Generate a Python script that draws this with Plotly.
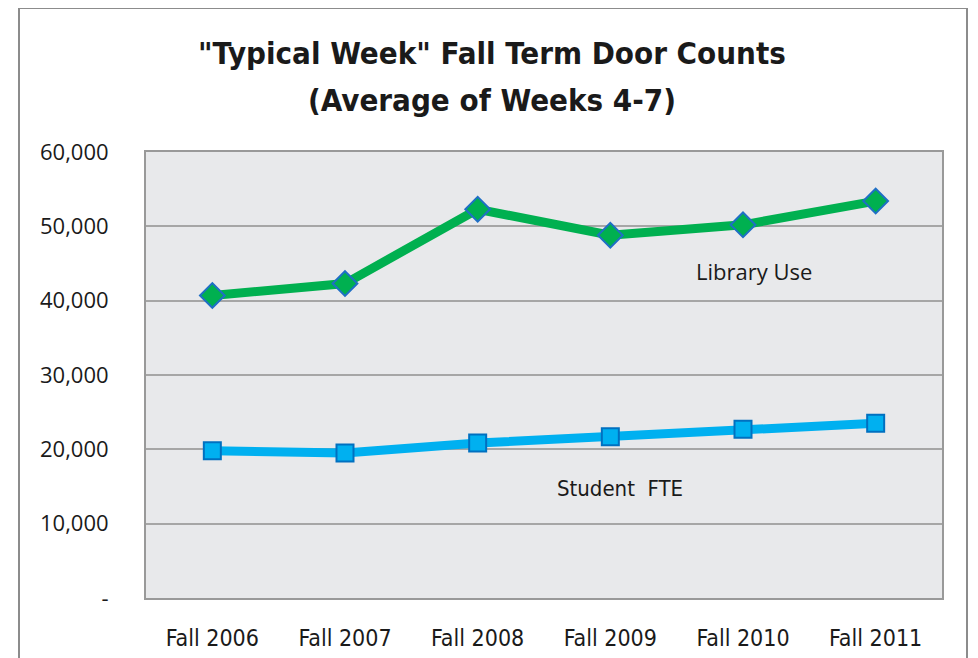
import plotly.graph_objects as go

categories = ["Fall 2006", "Fall 2007", "Fall 2008", "Fall 2009", "Fall 2010", "Fall 2011"]
library_use = [40700, 42300, 52300, 48800, 50200, 53400]
student_fte = [19800, 19500, 20850, 21700, 22700, 23500]
y_tickvals = [0, 10000, 20000, 30000, 40000, 50000, 60000]
y_ticktext = ["-", "10,000", "20,000", "30,000", "40,000", "50,000", "60,000"]
title_lines = ["\"Typical Week\" Fall Term Door Counts", "(Average of Weeks 4-7)"]

OFF = 8  # page body margin
W, H = 978 - OFF, 658 - OFF
L, T = 146 - OFF, 152 - OFF
R = W - (942 - OFF)
B = H - (598 - OFF)
pw, ph = W - L - R, H - T - B

def px(x):
    return (x - OFF - L) / pw

def py(y):
    return (H - B - (y - OFF)) / ph

narrow = "Liberation Sans Narrow, DejaVu Sans Condensed, Roboto"

fig = go.Figure()
fig.add_trace(go.Scatter(
    x=categories, y=library_use, mode="lines+markers", name="Library Use",
    line=dict(color="#00B050", width=9),
    marker=dict(symbol="diamond", size=19, color="#00B050",
                line=dict(color="#1F6FC5", width=2)),
))
fig.add_trace(go.Scatter(
    x=categories, y=student_fte, mode="lines+markers", name="Student FTE",
    line=dict(color="#00B0F0", width=9),
    marker=dict(symbol="square", size=17, color="#00B0F0",
                line=dict(color="#0070C0", width=2)),
))

annotations = [
    dict(text=title_lines[0], xref="paper", yref="paper", x=px(492), y=py(53),
         xanchor="center", yanchor="middle", showarrow=False,
         font=dict(family=narrow, size=31, color="#1A1A1A", weight="bold")),
    dict(text=title_lines[1], xref="paper", yref="paper", x=px(492), y=py(100),
         xanchor="center", yanchor="middle", showarrow=False,
         font=dict(family=narrow, size=31, color="#1A1A1A", weight="bold")),
    dict(text="Library Use", xref="paper", yref="paper", x=px(754), y=py(271),
         xanchor="center", yanchor="middle",
         showarrow=False, font=dict(family="Open Sans", size=22, color="#1A1A1A")),
    dict(text="Student\u00a0 FTE", xref="paper", yref="paper", x=px(620), y=py(488),
         xanchor="center", yanchor="middle",
         showarrow=False, font=dict(family=narrow, size=22, color="#1A1A1A")),
]

fig.update_layout(
    width=W, height=H,
    margin=dict(l=L, r=R, t=T, b=B),
    paper_bgcolor="white",
    plot_bgcolor="#E8E9EB",
    showlegend=False,
    font=dict(family="Open Sans", color="#1A1A1A"),
    xaxis=dict(
        range=[-0.5, 5.5], showgrid=False, zeroline=False, automargin=False,
        showline=True, linecolor="#999999", linewidth=2, mirror=True,
        tickfont=dict(family=narrow, size=23, color="#1A1A1A"),
        ticks="", ticklabelstandoff=18,
    ),
    yaxis=dict(
        range=[0, 60000], tickvals=y_tickvals, ticktext=y_ticktext, automargin=False,
        showgrid=True, gridcolor="#A6A6A6", gridwidth=2, zeroline=False,
        showline=True, linecolor="#999999", linewidth=2, mirror=True,
        tickfont=dict(family="Open Sans", size=22, color="#1A1A1A"),
        ticks="", ticklabelstandoff=31,
    ),
    annotations=annotations,
    shapes=[
        dict(type="rect", xref="paper", yref="paper",
             x0=px(19), x1=px(967), y0=py(690), y1=py(8),
             line=dict(color="#8C8C8C", width=2), fillcolor="rgba(0,0,0,0)", layer="below"),
    ],
)

fig.write_html("out.html")
